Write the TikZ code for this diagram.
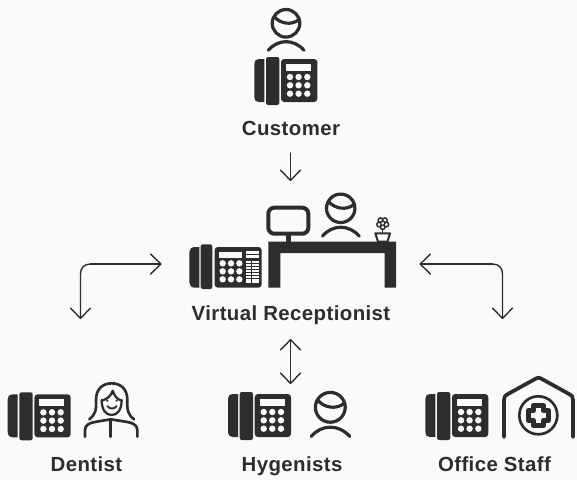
\documentclass[tikz,border=0pt]{standalone}
\usepackage{fontspec}
\setmainfont{Liberation Sans}
\usetikzlibrary{arrows.meta}
\definecolor{ink}{HTML}{2D2D2D}
\definecolor{paper}{HTML}{FAFAFA}
\newfontfamily\lblfont[LetterSpace=2]{Liberation Sans}
\tikzset{
  lbl/.style={text=ink,font=\lblfont\fontsize{15.3pt}{17pt}\selectfont\bfseries,inner sep=0pt,anchor=base},
  conn/.style={draw=ink,line width=1.05pt,line join=round,line cap=round},
  arr/.style={conn,-{Straight Barb[length=7.6pt,width=15pt,line width=1.05pt,round]}},
  rarr/.style={conn,{Straight Barb[length=7.6pt,width=15pt,line width=1.05pt,round]}-{Straight Barb[length=7.6pt,width=15pt,line width=1.05pt,round]}},
  icon/.style={draw=ink,line width=2.4pt,line cap=round,line join=round},
  fine/.style={draw=ink,line width=2pt,line cap=round,line join=round},
  thin icon/.style={draw=ink,line width=1.1pt,line cap=round,line join=round},
}
\newcommand{\phoneicon}[2]{%
 \begin{scope}[shift={(#1,#2)}]
  \fill[ink] (10,2) -- (4.5,2) .. controls (1.5,2) and (0,4) .. (0,7) -- (0,40) .. controls (0,43) and (1.5,45) .. (4.5,45) -- (10,45) -- cycle;
  \fill[ink,rounded corners=1.6pt] (11.7,0) rectangle (25,48);
  \fill[ink,rounded corners=2.4pt] (26.7,2) rectangle (63,45);
  \fill[paper] (31.7,6.7) rectangle (56.7,13.7);
  \foreach \xx in {35.7,44.3,53}\foreach \yy in {20,28.3,36.7}
    \fill[paper] (\xx,\yy) circle[radius=2.4pt];
 \end{scope}}
\newcommand{\personicon}[3]{%
 \begin{scope}[shift={(#1,#2)},scale=#3]
  \draw[icon] (0,0) circle[radius=13.8];
  \draw[icon] (-11.7,-6.7) .. controls (-6,0.5) and (6,2.5) .. (13.2,-4);
  \draw[icon] (-17.7,27) .. controls (-8,15.5) and (8,15.5) .. (18,27);
 \end{scope}}
\begin{document}
\begin{tikzpicture}[x=0.75pt,y=-0.75pt]
\useasboundingbox[fill=paper] (0,0) rectangle (577,480);
% customer
\personicon{286}{23.3}{1}
\phoneicon{254.3}{57}
\node[lbl] (customer) at (291,135) {Customer};
% reception phone
\begin{scope}[shift={(180,185)},x=0.25pt,y=-0.25pt]
  \fill[ink] (58,186) -- (44,186) .. controls (34,186) and (28,193) .. (28,202) -- (28,292) .. controls (28,301) and (34,308) .. (44,308) -- (58,308) -- cycle;
  \fill[ink,rounded corners=1.6pt] (62,178) rectangle (97,312);
  \fill[ink,rounded corners=2.4pt] (104,186) rectangle (245,308);
  \fill[paper] (117,201) rectangle (186,219);
  \fill[paper] (198,198) rectangle (237,206);
  \fill[paper] (198,211) rectangle (237,219);
  \fill[paper] (198,227) rectangle (237,295);
  \foreach \yy in {236,245,254,263,272,281}
    \draw[ink,line width=0.45pt] (198,\yy) -- (237,\yy);
  \draw[ink,line width=0.45pt] (214,227) -- (214,295);
  \foreach \xx in {128,153,178}\foreach \yy in {235,259,283}
    \fill[paper] (\xx,\yy) circle[radius=2.4pt];
\end{scope}
% desk
\fill[ink] (268.3,241.7) rectangle (396,253) (268.3,241.7) rectangle (280.3,287.7) (384.7,241.7) rectangle (396,287.7);
\fill[ink] (286.3,235) rectangle (291,241.7);
\draw[icon,line width=3pt,rounded corners=4.5pt] (268.3,207.7) rectangle (308.3,233.7);
\personicon{340.7}{208.3}{1.03}
% flower
\draw[thin icon,line width=1.5pt,fill=paper] (375.3,233.3) -- (390,233.3) -- (387.5,241.7) -- (378,241.7) -- cycle;
\draw[thin icon] (382.7,229.5) -- (382.7,233.3);
\foreach \aa in {90,162,234,306,18}
  \draw[thin icon,fill=paper] (382.7,223.3) ++(\aa:3.7) circle[radius=2.4];
\draw[thin icon,fill=paper] (382.7,223.3) circle[radius=2.2];
\node[lbl] (reception) at (291,320) {Virtual Receptionist};
% bottom
\phoneicon{7.7}{392.3}
\begin{scope}[shift={(0,380)},x=0.25pt,y=-0.25pt]
  \draw[fine] (268,118) .. controls (285,105) and (290,90) .. (288,60) .. controls (288,25) and (310,10) .. (335,10) .. controls (360,10) and (382,25) .. (382,60) .. controls (380,90) and (385,105) .. (402,118);
  \draw[fine] (255,170) -- (255,150) .. controls (255,135) and (270,128) .. (285,126) .. controls (300,123) and (320,120) .. (332,118) .. controls (345,120) and (365,123) .. (382,126) .. controls (397,128) and (412,135) .. (412,150) -- (412,170);
  \draw[fine] (332,118) -- (332,170);
  \draw[fine,line width=1.7pt] (305,60) .. controls (305,90) and (318,105) .. (335,105) .. controls (352,105) and (365,90) .. (365,60);
  \draw[fine,line width=1.7pt] (305,62) .. controls (322,58) and (335,45) .. (338,32) .. controls (342,45) and (350,58) .. (365,62);
  \fill[ink] (322,62) circle[radius=0.9pt] (350,62) circle[radius=0.9pt];
  \draw[fine,line width=1.4pt] (322,78) .. controls (328,88) and (344,88) .. (350,78);
\end{scope}
\node[lbl] (dentist) at (86.5,471) {Dentist};
\phoneicon{228}{392}
\personicon{330.3}{407.3}{1.08}
\node[lbl] (hygenists) at (292,471) {Hygenists};
\phoneicon{425.3}{392}
% clinic
\draw[icon,line width=2.8pt] (504,437) -- (504,400) .. controls (504,397) and (505,395.5) .. (507,394.5) -- (536,378.5) .. controls (538,377.4) and (539,377.4) .. (541,378.5) -- (570,394.5) .. controls (572,395.5) and (573,397) .. (573,400) -- (573,437);
\draw[icon,line width=2pt] (538.3,415.3) circle[radius=19];
\draw[icon,line width=3.75pt,line join=round] (533.3,410.3) -- (533.3,405.3) -- (543.3,405.3) -- (543.3,410.3) -- (548.3,410.3) -- (548.3,420.3) -- (543.3,420.3) -- (543.3,425.3) -- (533.3,425.3) -- (533.3,420.3) -- (528.3,420.3) -- (528.3,410.3) -- cycle;
\node[lbl] (office) at (494.5,471) {Office Staff};
% connectors
\coordinate (ca) at (290.5,153); \coordinate (cb) at (290.5,181);
\draw[arr] (ca) -- (cb);
\coordinate (da) at (290.5,339); \coordinate (db) at (290.5,384);
\draw[rarr] (da) -- (db);
\coordinate (la) at (161.5,264); \coordinate (lb) at (80.5,319);
\draw[arr] (90.5,264) .. controls (84,264) and (80.5,268) .. (80.5,274) -- (lb);
\draw[arr] (90.5,264) -- (la);
\coordinate (ra) at (419.5,264); \coordinate (rb) at (502.5,319);
\draw[arr] (492.5,264) .. controls (499,264) and (502.5,268) .. (502.5,274) -- (rb);
\draw[arr] (492.5,264) -- (ra);
\end{tikzpicture}
\end{document}
